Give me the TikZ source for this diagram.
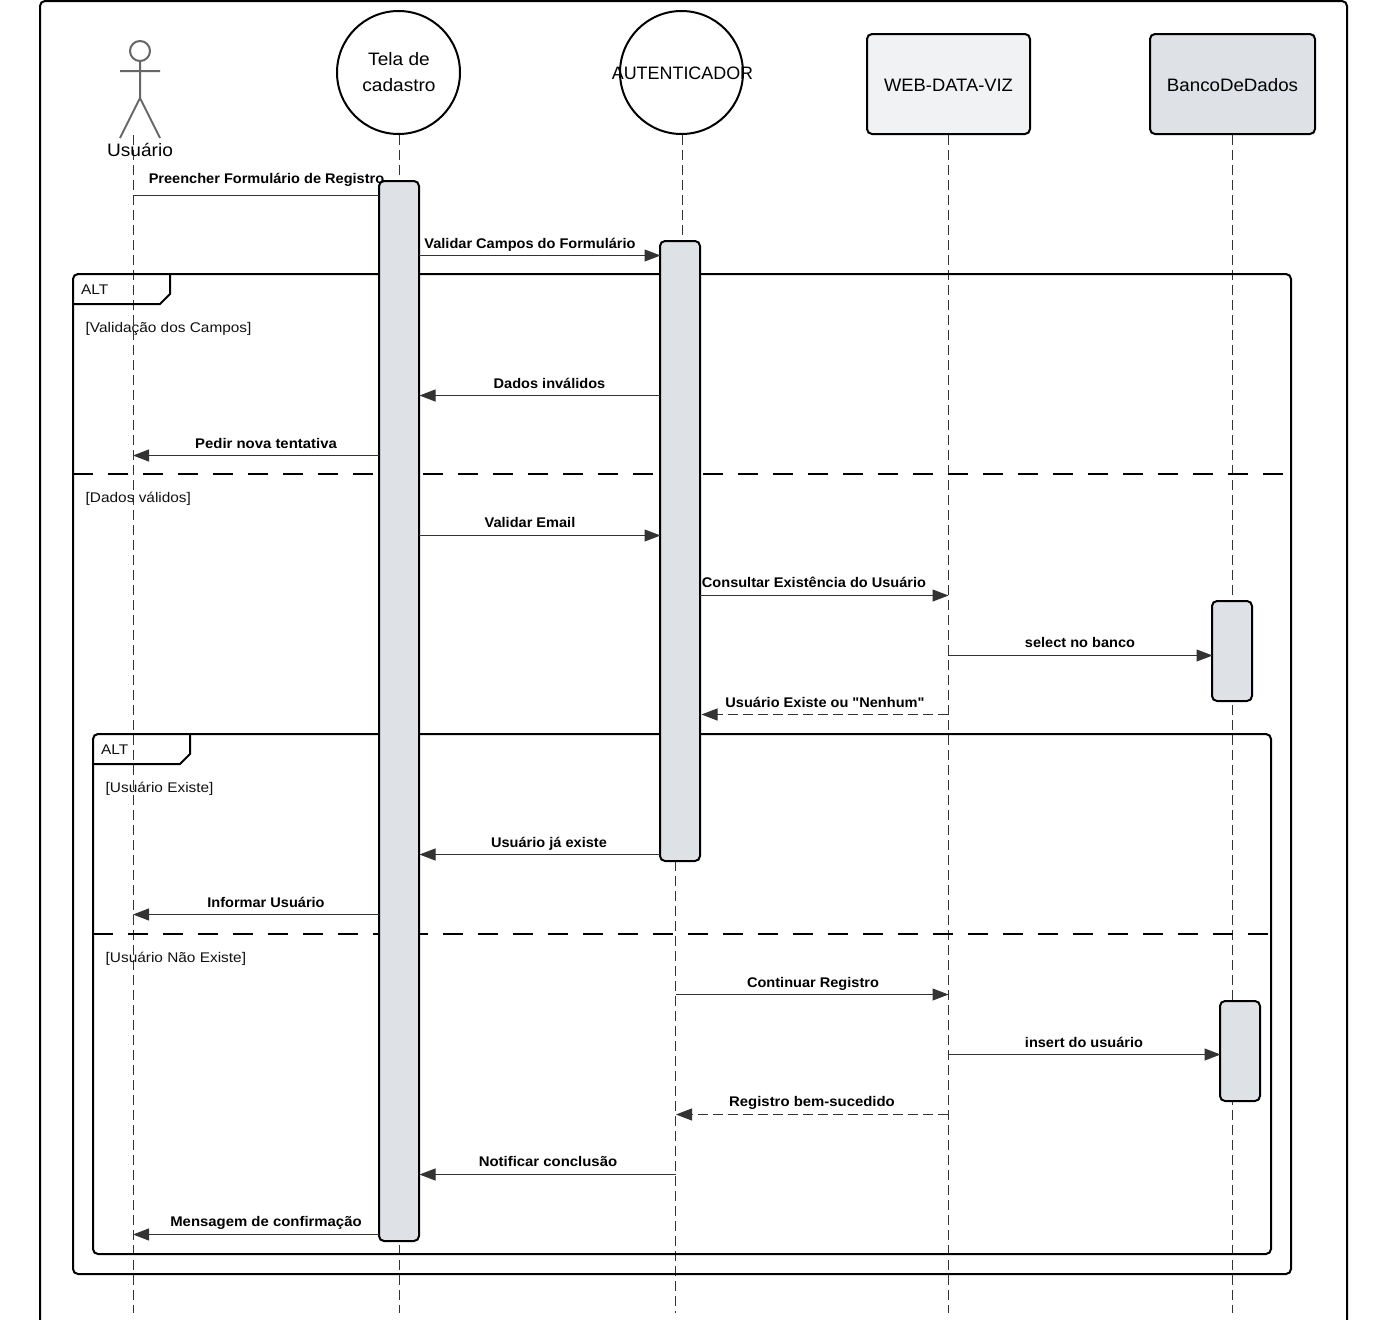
\documentclass[tikz,border=0pt]{standalone}
\usepackage{fontspec}
\setmainfont[FakeStretch=1.06]{Liberation Sans}
\newfontfamily\msgfont[FakeStretch=1.04]{Liberation Sans}
\newfontfamily\msgwide[FakeStretch=1.065]{Liberation Sans}
\newfontfamily\frmfont[FakeStretch=1.10]{Liberation Sans}
\newfontfamily\capfont[FakeStretch=0.995]{Liberation Sans}
\newfontfamily\webfont[FakeStretch=1.02]{Liberation Sans}
\newfontfamily\bdfont[FakeStretch=1.04]{Liberation Sans}
\usetikzlibrary{arrows.meta}
\definecolor{actfill}{HTML}{DEE1E6}
\definecolor{webfill}{HTML}{F1F2F4}
\definecolor{msgline}{HTML}{333333}
\definecolor{stick}{HTML}{666666}
\definecolor{lblcol}{HTML}{111111}
\tikzset{
  x=1pt,y=-1pt,
  frame/.style={draw=black,line width=2pt,rounded corners=5pt},
  sep/.style={draw=black,line width=2pt,dash pattern=on 20pt off 15pt},
  life/.style={draw=msgline,line width=1pt,dash pattern=on 10pt off 5pt},
  actbar/.style={draw=black,fill=actfill,line width=2pt,rounded corners=5pt,minimum width=40pt,inner sep=0pt,outer sep=0pt,anchor=north},
  circ/.style={circle,draw=black,fill=white,line width=2pt,minimum size=123pt,inner sep=0pt,outer sep=0pt},
  pbox/.style={draw=black,line width=2pt,rounded corners=5pt,minimum height=100pt,inner sep=0pt,outer sep=0pt},
  msg/.style={draw=msgline,line width=1pt,-{Triangle[length=16pt,width=12pt,color=msgline]}},
  msgplain/.style={draw=msgline,line width=1pt},
  ret/.style={msg,dash pattern=on 10pt off 5pt},
  mlab/.style={font=\fontsize{14}{16}\msgfont\bfseries,text=black,inner sep=0pt,anchor=base},
  mlabw/.style={font=\fontsize{14}{16}\msgwide\bfseries,text=black,inner sep=0pt,anchor=base},
  flab/.style={font=\fontsize{14}{16}\frmfont,text=lblcol,inner sep=0pt,anchor=base west},
}
\begin{document}
\begin{tikzpicture}
\useasboundingbox (0,0) rectangle (1387,1320);
\fill[white] (0,0) rectangle (1387,1320);
% outer frame
\draw[frame] (40,1340) -- (40,1) -- (1347,1) -- (1347,1340);
% lifeline ends
\coordinate (uTop) at (133,135);
\coordinate (uEnd) at (133,1313);
\coordinate (tTop) at (399,135);
\coordinate (tEnd) at (399,1313);
\coordinate (aTop) at (682,135);
\coordinate (aMid) at (682,241);
\coordinate (aLow) at (675,861);
\coordinate (aEnd) at (675,1313);
\coordinate (wTop) at (948,135);
\coordinate (wEnd) at (948,1313);
\coordinate (bTop) at (1232,135);
\coordinate (bEnd) at (1232,1313);
\draw[life] (uTop) -- (uEnd);
\draw[life] (tTop) -- (tEnd);
\draw[life] (aTop) -- (aMid);
\draw[life] (aLow) -- (aEnd);
\draw[life] (wTop) -- (wEnd);
\draw[life] (bTop) -- (bEnd);
% ALT frames
\draw[frame] (73,274) rectangle (1291,1274);
\draw[line width=2pt,line join=miter] (73,304) -- (160,304) -- (170,294) -- (170,274);
\draw[sep] (73,474) -- (1291,474);
\draw[frame] (93,734) rectangle (1271,1254);
\draw[line width=2pt,line join=miter] (93,764) -- (180,764) -- (190,754) -- (190,734);
\draw[sep] (93,934) -- (1271,934);
\node[flab] (altA) at (81,294) {ALT};
\node[flab] (altB) at (101,754) {ALT};
\node[flab] (g1) at (85.5,332) {[Validação dos Campos]};
\node[flab] (g2) at (85.5,502) {[Dados válidos]};
\node[flab] (g3) at (105.5,792) {[Usuário Existe]};
\node[flab] (g4) at (105.5,962) {[Usuário Não Existe]};
% participants
\node[circ] (tela) at (398.5,72.5) {};
\node[font=\fontsize{18}{26}\selectfont,align=center,inner sep=0pt] (telaL) at (399,72.5) {Tela de\\cadastro};
\node[circ] (auth) at (681.5,72.5) {};
\node[font=\fontsize{18}{22}\capfont,inner sep=0pt] (authL) at (682.5,73.5) {AUTENTICADOR};
\node[pbox,fill=webfill,minimum width=163pt] (web) at (948.5,84) {};
\node[pbox,fill=actfill,minimum width=165pt] (bd) at (1232.5,84) {};
\node[font=\fontsize{18}{22}\webfont,inner sep=0pt] (webL) at (948.5,85.5) {WEB-DATA-VIZ};
\node[font=\fontsize{18}{22}\bdfont,inner sep=0pt] (bdL) at (1232.5,85.5) {BancoDeDados};
% stick figure
\draw[stick,line width=2pt] (140,51) circle (10);
\draw[stick,line width=2pt] (140,61) -- (140,98) (120,71) -- (160,71) (120,138) -- (140,98) -- (160,138);
\node[font=\fontsize{18}{22}\selectfont,inner sep=0pt] (usr) at (140,150) {Usuário};
% activation bars
\node[actbar,minimum height=1060pt] (act1) at (399,181) {};
\node[actbar,minimum height=620pt] (act2) at (680,241) {};
\node[actbar,minimum height=100pt] (act3) at (1232,601) {};
\node[actbar,minimum height=100pt] (act4) at (1240,1001) {};
% message coordinates
\coordinate (m1a) at (133,195.5);  \coordinate (m1b) at (379,195.5);
\coordinate (m2a) at (419,255.5);  \coordinate (m2b) at (660.5,255.5);
\coordinate (m3a) at (660,395.5);  \coordinate (m3b) at (419.5,395.5);
\coordinate (m4a) at (379,455.5);  \coordinate (m4b) at (133,455.5);
\coordinate (m5a) at (419,535.5);  \coordinate (m5b) at (660.5,535.5);
\coordinate (m6a) at (700,595.5);  \coordinate (m6b) at (948.5,595.5);
\coordinate (m7a) at (948,655.5);  \coordinate (m7b) at (1212.5,655.5);
\coordinate (m8a) at (948,714.5);  \coordinate (m8b) at (701.5,714.5);
\coordinate (m9a) at (660,854.5);  \coordinate (m9b) at (419.5,854.5);
\coordinate (m10a) at (379,914.5); \coordinate (m10b) at (133,914.5);
\coordinate (m11a) at (676,994.5); \coordinate (m11b) at (948.5,994.5);
\coordinate (m12a) at (948,1054.5);\coordinate (m12b) at (1220.5,1054.5);
\coordinate (m13a) at (948,1114.5);\coordinate (m13b) at (676,1114.5);
\coordinate (m14a) at (676,1174.5);\coordinate (m14b) at (419.5,1174.5);
\coordinate (m15a) at (379,1234.5);\coordinate (m15b) at (133,1234.5);
\draw[msgplain] (m1a) -- (m1b);
\draw[msg] (m2a) -- (m2b);
\draw[msg] (m3a) -- (m3b);
\draw[msg] (m4a) -- (m4b);
\draw[msg] (m5a) -- (m5b);
\draw[msg] (m6a) -- (m6b);
\draw[msg] (m7a) -- (m7b);
\draw[ret] (m8a) -- (m8b);
\draw[msg] (m9a) -- (m9b);
\draw[msg] (m10a) -- (m10b);
\draw[msg] (m11a) -- (m11b);
\draw[msg] (m12a) -- (m12b);
\draw[ret] (m13a) -- (m13b);
\draw[msg] (m14a) -- (m14b);
\draw[msg] (m15a) -- (m15b);
% message labels
\node[mlab] (l1) at (266.5,183) {Preencher Formulário de Registro};
\node[mlab] (l2) at (530,248) {Validar Campos do Formulário};
\node[mlab] (l3) at (549.5,388) {Dados inválidos};
\node[mlabw] (l4) at (266,448) {Pedir nova tentativa};
\node[mlab] (l5) at (530,527) {Validar Email};
\node[mlab] (l6) at (814,587) {Consultar Existência do Usuário};
\node[mlab] (l7) at (1080,647) {select no banco};
\node[mlab] (l8) at (825,707) {Usuário Existe ou "Nenhum"};
\node[mlab] (l9) at (549,847) {Usuário já existe};
\node[mlab] (l10) at (266,907) {Informar Usuário};
\node[mlab] (l11) at (813,987) {Continuar Registro};
\node[mlab] (l12) at (1084,1047) {insert do usuário};
\node[mlabw] (l13) at (812,1106) {Registro bem-sucedido};
\node[mlabw] (l14) at (548,1166) {Notificar conclusão};
\node[mlabw] (l15) at (266,1226) {Mensagem de confirmação};
\end{tikzpicture}
\end{document}
